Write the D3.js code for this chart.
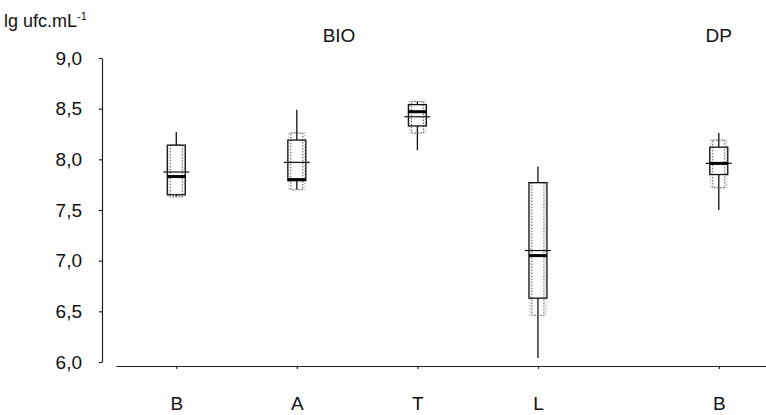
<!DOCTYPE html>
<html>
<head>
<meta charset="utf-8">
<script src="https://cdn.jsdelivr.net/npm/d3@7"></script>
<style>
  body { margin: 0; background: #fff; }
  text { font-family: "Liberation Sans", Arial, sans-serif; fill: #111; }
</style>
</head>
<body>
<div id="chart"></div>
<script>
// data
const categories = ["B", "A", "T", "L", "B"];
const positions = [1, 2, 3, 4, 5.5];
const whiskerLow  = [7.63, 7.70, 8.09, 6.04, 7.50];
const whiskerHigh = [8.27, 8.49, 8.57, 7.93, 8.26];
const q1   = [7.65, 7.79, 8.33, 6.63, 7.85];
const q3   = [8.14, 8.19, 8.54, 7.77, 8.12];
const dotLow  = [7.63, 7.70, 8.26, 6.46, 7.72];
const dotHigh = [8.14, 8.26, 8.57, 7.77, 8.19];
const medians = [7.83, 7.80, 8.47, 7.05, 7.96];
const means   = [7.875, 7.97, 8.42, 7.10, 7.96];
const yTicks = [6.0, 6.5, 7.0, 7.5, 8.0, 8.5, 9.0];
const groupLabels = [{text: "BIO", pos: 2.35}, {text: "DP", pos: 5.5}];

const W = 766, H = 415;
const svg = d3.select("#chart").append("svg")
    .attr("width", W)
    .attr("height", H);

const x = d3.scaleLinear().domain([0.5, 5.9]).range([116, 767]);
const y = d3.scaleLinear().domain([6, 9]).range([362, 58]);

const rows = categories.map((c, i) => ({
    cat: c, pos: positions[i],
    wl: whiskerLow[i], wh: whiskerHigh[i],
    q1: q1[i], q3: q3[i],
    dl: dotLow[i], dh: dotHigh[i],
    med: medians[i], mean: means[i]
}));

// y axis
const yAxis = svg.append("g")
    .attr("transform", "translate(102,0)")
    .call(d3.axisLeft(y).tickValues(yTicks).tickSize(3).tickSizeOuter(0).tickPadding(17)
        .tickFormat(d => d3.format(".1f")(d).replace(".", ",")));
yAxis.selectAll("text").style("font-size", "19px").style("font-family", "Liberation Sans, Arial, sans-serif");
yAxis.selectAll("path, line").attr("stroke", "#222").attr("stroke-width", 1.2);

// x axis
const xAxis = svg.append("g")
    .attr("transform", "translate(0,366)")
    .call(d3.axisBottom(x).tickValues(positions).tickSize(3).tickSizeOuter(0).tickPadding(28)
        .tickFormat((d, i) => categories[i]));
xAxis.selectAll("text").style("font-size", "19px").style("font-family", "Liberation Sans, Arial, sans-serif");
xAxis.selectAll("path, line").attr("stroke", "#222").attr("stroke-width", 1.2);

// axis title
const ttl = svg.append("text")
    .attr("x", 4)
    .attr("y", 27)
    .style("font-size", "18px");
ttl.append("tspan").text("lg ufc.mL");
ttl.append("tspan").attr("dy", -7).style("font-size", "11px").text("-1");

// group labels
svg.selectAll("text.group").data(groupLabels)
    .enter().append("text")
    .attr("class", "group")
    .attr("x", d => x(d.pos))
    .attr("y", 42)
    .attr("text-anchor", "middle")
    .style("font-size", "19px")
    .text(d => d.text);

const half = 9, inner = 6, meanHalf = 13;
const g = svg.selectAll("g.box").data(rows)
    .enter().append("g")
    .attr("class", "box");

// whiskers
g.append("line")
    .attr("x1", d => x(d.pos)).attr("x2", d => x(d.pos))
    .attr("y1", d => y(d.wh)).attr("y2", d => y(d.q3))
    .attr("stroke", "#111").attr("stroke-width", 1.3);
g.append("line")
    .attr("x1", d => x(d.pos)).attr("x2", d => x(d.pos))
    .attr("y1", d => y(d.q1)).attr("y2", d => y(d.wl))
    .attr("stroke", "#111").attr("stroke-width", 1.3);

// dotted inner box
g.append("rect")
    .attr("x", d => x(d.pos) - inner)
    .attr("width", inner * 2)
    .attr("y", d => y(d.dh))
    .attr("height", d => y(d.dl) - y(d.dh))
    .attr("fill", "none")
    .attr("stroke", "#555")
    .attr("stroke-width", 1)
    .attr("stroke-dasharray", "1.5,1.5");
g.append("rect")
    .attr("x", d => x(d.pos) - half + 1)
    .attr("width", (half - 1) * 2)
    .attr("y", d => y(d.dh))
    .attr("height", d => y(d.dl) - y(d.dh))
    .attr("fill", "none")
    .attr("stroke", "#777")
    .attr("stroke-width", 0.8)
    .attr("stroke-dasharray", "1,2");

// solid box
g.append("rect")
    .attr("x", d => x(d.pos) - half)
    .attr("width", half * 2)
    .attr("y", d => y(d.q3))
    .attr("height", d => y(d.q1) - y(d.q3))
    .attr("fill", "none")
    .attr("stroke", "#111")
    .attr("stroke-width", 1.3);

// mean (thin, wider)
g.append("line")
    .attr("x1", d => x(d.pos) - meanHalf).attr("x2", d => x(d.pos) + meanHalf)
    .attr("y1", d => y(d.mean)).attr("y2", d => y(d.mean))
    .attr("stroke", "#111").attr("stroke-width", 1.2);

// median (thick)
g.append("line")
    .attr("x1", d => x(d.pos) - half).attr("x2", d => x(d.pos) + half)
    .attr("y1", d => y(d.med)).attr("y2", d => y(d.med))
    .attr("stroke", "#000").attr("stroke-width", 3);
</script>
</body>
</html>
